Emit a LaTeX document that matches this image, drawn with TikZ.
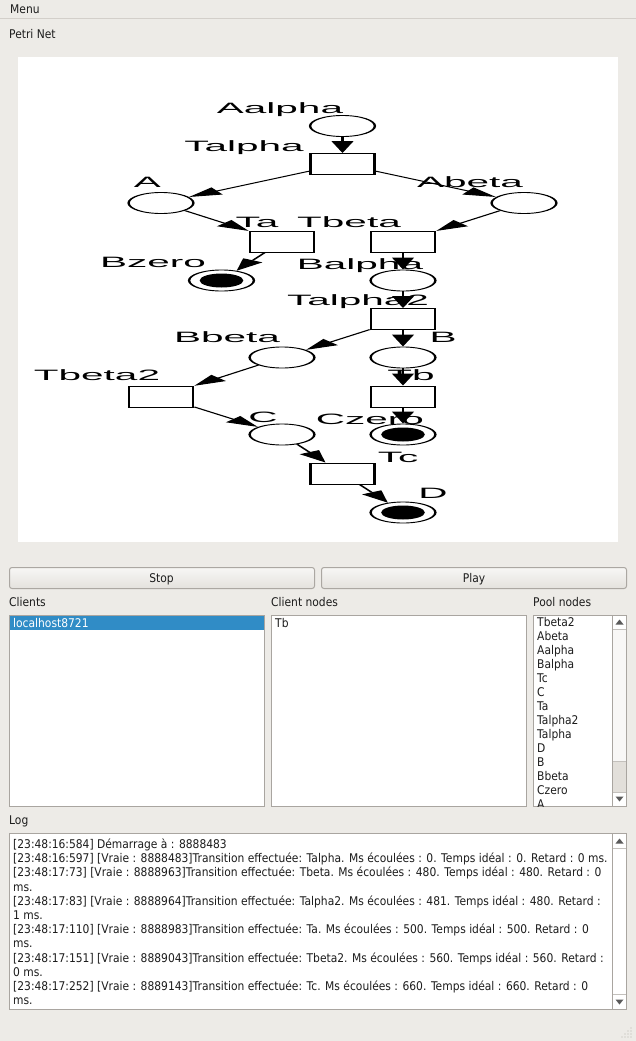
\documentclass[tikz,border=0pt]{standalone}
\usepackage{fontspec}
\usepackage{graphicx}
\setmainfont{DejaVu Sans}[FakeStretch=0.893]
\newfontfamily\netfont{Liberation Sans}
\usetikzlibrary{shapes.geometric,arrows.meta}
\definecolor{bg}{HTML}{EDEBE7}
\definecolor{sepline}{HTML}{D3CFCA}
\definecolor{boxline}{HTML}{A9A5A0}
\definecolor{selblue}{HTML}{308CC6}
\definecolor{btntop}{HTML}{F7F6F5}
\definecolor{btnbot}{HTML}{E4E1DD}
\definecolor{btnline}{HTML}{ABA7A2}
\definecolor{guitext}{HTML}{1C1C1C}
\definecolor{thumbcol}{HTML}{F8F7F6}
\definecolor{troughcol}{HTML}{E2DFDA}
\definecolor{arrowcol}{HTML}{5A5A5A}
\definecolor{gripcol}{HTML}{B8B4AE}
\newcommand{\kx}{2.7}
\begin{document}
\begin{tikzpicture}[x=1pt,y=-1pt,
  font=\fontsize{12}{14}\selectfont,
  txt/.style={inner sep=0pt, anchor=base west, text=guitext},
  ctxt/.style={inner sep=0pt, anchor=base, text=guitext},
  box/.style={draw=boxline, fill=white, line width=1pt},
  btn/.style={top color=btntop, bottom color=btnbot, draw=btnline, line width=1pt, rounded corners=2.5pt},
  place/.style={ellipse, draw, line width=0.9pt, minimum width=24pt, minimum height=21pt, inner sep=0pt},
  trans/.style={rectangle, draw, line width=0.9pt, minimum width=23.7pt, minimum height=21pt, inner sep=0pt},
  lab/.style={font=\netfont\fontsize{15}{15}\selectfont, inner sep=0pt, anchor=base},
  arc/.style={-{Triangle[length=12pt,width=8pt]}, line width=0.9pt},
  tok/.style={fill=black}
]
\useasboundingbox (0,0) rectangle (636,1041);
\fill[bg] (0,0) rectangle (636,1041);
\draw[sepline, line width=1pt] (0,18.5) -- (636,18.5);
\node[txt] (menu) at (10,13.4) {Menu};
\node[txt] (title) at (9,38.4) {Petri Net};
\fill[white] (18,57) rectangle (618,542);

% ---------------- Petri net (stretched canvas) ----------------
\begin{scope}[transform canvas={xscale=\kx}]
  % labels
  \node[lab] (lAalpha) at ({280/\kx},113) {Aalpha};
  \node[lab] (lTalpha) at ({244/\kx},151) {Talpha};
  \node[lab] (lA) at ({147.5/\kx},187) {A};
  \node[lab] (lAbeta) at ({470/\kx},187) {Abeta};
  \node[lab] (lTa) at ({257/\kx},227) {Ta};
  \node[lab] (lTbeta) at ({349/\kx},227) {Tbeta};
  \node[lab] (lBzero) at ({153/\kx},267) {Bzero};
  \node[lab] (lBalpha) at ({360/\kx},269) {Balpha};
  \node[lab] (lTalpha2) at ({358/\kx},305) {Talpha2};
  \node[lab] (lBbeta) at ({227/\kx},342) {Bbeta};
  \node[lab] (lB) at ({443/\kx},342) {B};
  \node[lab] (lTbeta2) at ({97/\kx},380) {Tbeta2};
  \node[lab] (lTb) at ({411/\kx},380) {Tb};
  \node[lab] (lC) at ({263/\kx},422) {C};
  \node[lab] (lCzero) at ({370/\kx},424) {Czero};
  \node[lab] (lTc) at ({398/\kx},462) {Tc};
  \node[lab] (lD) at ({433/\kx},498) {D};
  % places and transitions
  \node[place] (Aalpha) at ({342.5/\kx},126) {};
  \node[trans] (Talpha) at ({342.5/\kx},164) {};
  \node[place] (A) at ({161/\kx},203) {};
  \node[place] (Abeta) at ({524/\kx},203) {};
  \node[trans] (Ta) at ({282/\kx},241.5) {};
  \node[trans] (Tbeta) at ({403/\kx},241.5) {};
  \node[place] (Bzero) at ({221.5/\kx},280.5) {};
  \node[place] (Balpha) at ({403/\kx},280.5) {};
  \node[trans] (Talpha2) at ({403/\kx},319) {};
  \node[place] (Bbeta) at ({282/\kx},357.5) {};
  \node[place] (B) at ({403/\kx},357.5) {};
  \node[trans] (Tbeta2) at ({161/\kx},396.5) {};
  \node[trans] (Tb) at ({403/\kx},396.5) {};
  \node[place] (C) at ({282/\kx},434.5) {};
  \node[place] (Czero) at ({403/\kx},434.5) {};
  \node[trans] (Tc) at ({342.5/\kx},473.5) {};
  \node[place] (D) at ({403/\kx},512.5) {};
  % tokens
  \fill[tok] (Bzero.center) ellipse (8.1 and 7);
  \fill[tok] (Czero.center) ellipse (8.1 and 7);
  \fill[tok] (D.center) ellipse (8.1 and 7);
  % arcs
  \draw[arc] (Aalpha) -- (Talpha);
  \draw[arc] (Talpha) -- (A);
  \draw[arc] (Talpha) -- (Abeta);
  \draw[arc] (A) -- (Ta);
  \draw[arc] (Abeta) -- (Tbeta);
  \draw[arc] (Ta) -- (Bzero);
  \draw[arc] (Tbeta) -- (Balpha);
  \draw[arc] (Balpha) -- (Talpha2);
  \draw[arc] (Talpha2) -- (Bbeta);
  \draw[arc] (Talpha2) -- (B);
  \draw[arc] (Bbeta) -- (Tbeta2);
  \draw[arc] (B) -- (Tb);
  \draw[arc] (Tbeta2) -- (C);
  \draw[arc] (Tb) -- (Czero);
  \draw[arc] (C) -- (Tc);
  \draw[arc] (Tc) -- (D);
\end{scope}

% ---------------- Buttons ----------------
\path[btn] (9.5,567.5) rectangle (314.5,588.5);
\node[ctxt] (stop) at (161.5,582.4) {Stop};
\path[btn] (321.5,567.5) rectangle (626.5,588.5);
\node[ctxt] (play) at (474,582.4) {Play};

% ---------------- Lists ----------------
\node[txt] (clientslab) at (9,606.4) {Clients};
\node[txt] (cnodeslab) at (271,606.4) {Client nodes};
\node[txt] (poollab) at (533,606.4) {Pool nodes};

\draw[box] (9.5,615.5) rectangle (264.5,806.5);
\fill[selblue] (10,616) rectangle (264,630);
\node[txt, text=white] (client1) at (13,627.4) {localhost8721};

\draw[box] (271.5,615.5) rectangle (526.5,806.5);
\node[txt] (cnode1) at (275,627.4) {Tb};

\draw[box] (533.5,615.5) rectangle (626.5,806.5);
\fill[thumbcol] (613,629) rectangle (626,761);
\fill[troughcol] (613,761) rectangle (626,792);
\draw[boxline, line width=1pt] (612.5,616) -- (612.5,806);
\draw[boxline!70, line width=1pt] (613,629.5) -- (626,629.5);
\draw[boxline!70, line width=1pt] (613,761.5) -- (626,761.5);
\draw[boxline!70, line width=1pt] (613,792.5) -- (626,792.5);
\fill[arrowcol] (619.5,619.5) -- (623.5,624.5) -- (615.5,624.5) -- cycle;
\fill[arrowcol] (619.5,801.5) -- (623.5,796.5) -- (615.5,796.5) -- cycle;
\begin{scope}
  \clip (534,616) rectangle (612,806);
  \foreach \t [count=\i from 0] in {Tbeta2,Abeta,Aalpha,Balpha,Tc,C,Ta,Talpha2,Talpha,D,B,Bbeta,Czero,A}
    \node[txt] (pool\i) at (537,{626.4+14*\i}) {\t};
\end{scope}

% ---------------- Log ----------------
\node[txt] (loglab) at (9,824.4) {Log};
\draw[box] (9.5,833.5) rectangle (626.5,1009.5);
\draw[boxline, line width=1pt] (612.5,834) -- (612.5,1009);
\draw[boxline!70, line width=1pt] (613,848.5) -- (626,848.5);
\draw[boxline!70, line width=1pt] (613,994.5) -- (626,994.5);
\fill[arrowcol] (619.5,838.5) -- (623.5,843.5) -- (615.5,843.5) -- cycle;
\fill[arrowcol] (619.5,1004.5) -- (623.5,999.5) -- (615.5,999.5) -- cycle;
\foreach \l [count=\i from 0] in {
  {[23:48:16:584] Démarrage à : 8888483},
  {[23:48:16:597] [Vraie : 8888483]Transition effectuée: Talpha. Ms écoulées : 0. Temps idéal : 0. Retard : 0 ms.},
  {[23:48:17:73] [Vraie : 8888963]Transition effectuée: Tbeta. Ms écoulées : 480. Temps idéal : 480. Retard : 0},
  {ms.},
  {[23:48:17:83] [Vraie : 8888964]Transition effectuée: Talpha2. Ms écoulées : 481. Temps idéal : 480. Retard :},
  {1 ms.},
  {[23:48:17:110] [Vraie : 8888983]Transition effectuée: Ta. Ms écoulées : 500. Temps idéal : 500. Retard : 0},
  {ms.},
  {[23:48:17:151] [Vraie : 8889043]Transition effectuée: Tbeta2. Ms écoulées : 560. Temps idéal : 560. Retard :},
  {0 ms.},
  {[23:48:17:252] [Vraie : 8889143]Transition effectuée: Tc. Ms écoulées : 660. Temps idéal : 660. Retard : 0},
  {ms.}}
  \node[txt] (log\i) at (13,{848.4+14.2*\i}) {\l};

% ---------------- Size grip ----------------
\foreach \p in {(631,1028),(628,1031),(631,1031),(625,1034),(628,1034),(631,1034),(622,1037),(625,1037),(628,1037),(631,1037)}
  \fill[gripcol] \p circle (0.6);
\end{tikzpicture}
\end{document}
